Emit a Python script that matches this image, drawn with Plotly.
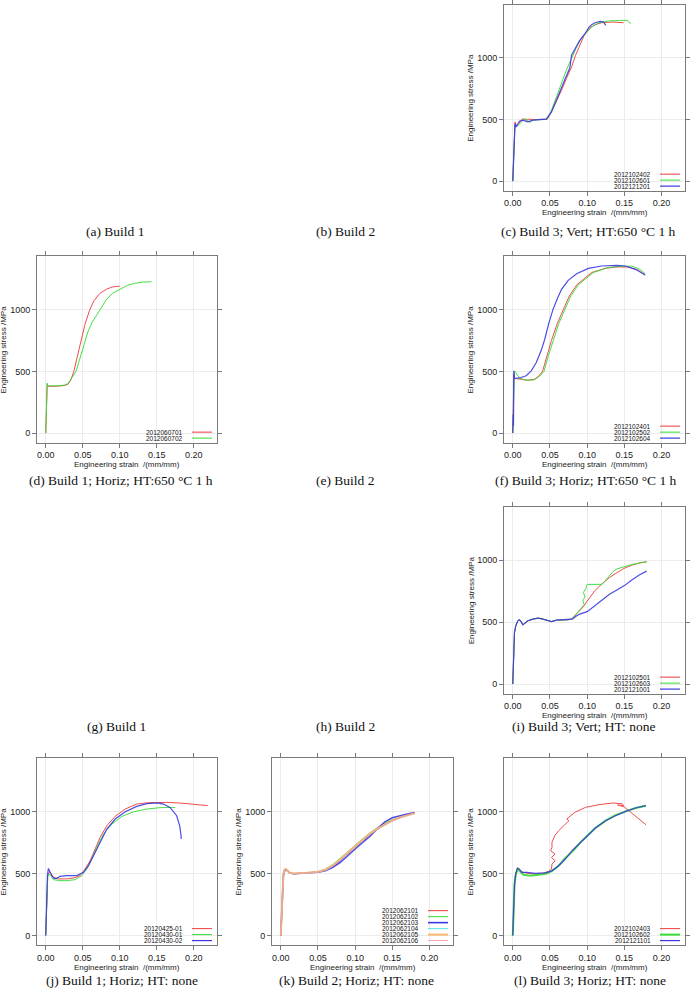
import plotly.graph_objects as go

# ---------------- data (strain mm/mm, stress MPa) ----------------
# (c) Build 3; Vert; HT:650 C 1 h
c_2012102402_x = [0, 0.002, 0.003, 0.005, 0.009, 0.0135, 0.018, 0.022, 0.029, 0.043, 0.0465, 0.052, 0.0587, 0.0655, 0.072, 0.079, 0.0844, 0.090, 0.096, 0.1025, 0.1106, 0.1196, 0.133, 0.149]
c_2012102402_y = [0, 300, 481, 450, 481, 508, 495, 503, 500, 503, 503, 562, 643, 738, 832, 927, 1022, 1108, 1184, 1238, 1270, 1286, 1292, 1286]
c_2012102601_x = [0, 0.002, 0.003, 0.006, 0.01, 0.014, 0.018, 0.0226, 0.027, 0.035, 0.046, 0.052, 0.0587, 0.0655, 0.072, 0.079, 0.0858, 0.0926, 0.0993, 0.106, 0.115, 0.1287, 0.1445, 0.1535, 0.159]
c_2012102601_y = [0, 320, 454, 445, 470, 495, 508, 475, 495, 500, 503, 575, 684, 792, 900, 995, 1089, 1162, 1211, 1251, 1284, 1300, 1305, 1305, 1278]
c_2012121201_x = [0, 0.002, 0.003, 0.0045, 0.009, 0.0135, 0.02, 0.027, 0.045, 0.052, 0.0587, 0.0655, 0.072, 0.0767, 0.079, 0.0835, 0.090, 0.097, 0.1025, 0.106, 0.1106, 0.1174, 0.122, 0.125]
c_2012121201_y = [0, 350, 467, 440, 486, 495, 481, 495, 503, 562, 657, 751, 846, 920, 1022, 1075, 1143, 1197, 1251, 1270, 1286, 1297, 1292, 1265]

# (d) Build 1; Horiz; HT:650 C 1 h
d_2012060701_x = [0, 0.001, 0.002, 0.003, 0.005, 0.015, 0.025, 0.03, 0.034, 0.038, 0.043, 0.048, 0.053, 0.059, 0.065, 0.073, 0.082, 0.09, 0.1]
d_2012060701_y = [0, 200, 395, 380, 378, 380, 385, 395, 430, 500, 620, 760, 880, 990, 1070, 1130, 1165, 1183, 1190]
d_2012060702_x = [0, 0.001, 0.002, 0.003, 0.005, 0.015, 0.025, 0.03, 0.035, 0.041, 0.046, 0.049, 0.052, 0.057, 0.063, 0.073, 0.082, 0.09, 0.1, 0.11, 0.12, 0.13, 0.143]
d_2012060702_y = [0, 180, 405, 380, 382, 383, 388, 400, 450, 500, 600, 660, 720, 820, 900, 1000, 1080, 1130, 1165, 1195, 1212, 1222, 1226]

# (f) Build 3; Horiz; HT:650 C 1 h
f_2012102401_x = [0, 0.0014, 0.0023, 0.0113, 0.0203, 0.029, 0.035, 0.04, 0.046, 0.052, 0.06, 0.068, 0.076, 0.086, 0.106, 0.125, 0.14, 0.156, 0.169, 0.178]
f_2012102401_y = [0, 477, 442, 436, 428, 436, 462, 500, 630, 750, 890, 1000, 1110, 1200, 1300, 1335, 1345, 1345, 1318, 1280]
f_2012102502_x = [0, 0.0023, 0.004, 0.009, 0.018, 0.029, 0.036, 0.042, 0.048, 0.054, 0.062, 0.070, 0.078, 0.088, 0.108, 0.127, 0.142, 0.16, 0.171, 0.178]
f_2012102502_y = [0, 504, 491, 445, 428, 431, 460, 500, 630, 750, 890, 1000, 1110, 1200, 1300, 1338, 1350, 1352, 1326, 1291]
f_2012102604_x = [0, 0.0005, 0.001, 0.0014, 0.0023, 0.0113, 0.018, 0.0248, 0.0316, 0.038, 0.043, 0.048, 0.054, 0.06, 0.0655, 0.0745, 0.0858, 0.1016, 0.1196, 0.14, 0.151, 0.165, 0.178]
f_2012102604_y = [0, 150, 60, 504, 442, 450, 464, 504, 571, 666, 760, 880, 1000, 1090, 1164, 1237, 1291, 1334, 1353, 1358, 1353, 1326, 1280]

# (i) Build 3; Vert; HT: none
i_2012102501_x = [0, 0.0014, 0.0023, 0.004, 0.0068, 0.009, 0.0113, 0.0135, 0.0158, 0.0203, 0.027, 0.034, 0.0406, 0.047, 0.052, 0.0587, 0.0655, 0.0745, 0.08, 0.085, 0.09, 0.095, 0.1, 0.105, 0.11, 0.12, 0.13, 0.14, 0.15, 0.16, 0.17, 0.18]
i_2012102501_y = [0, 280, 416, 470, 511, 519, 503, 478, 492, 511, 524, 533, 524, 511, 505, 516, 519, 519, 530, 560, 590, 625, 670, 715, 752, 810, 860, 900, 935, 960, 978, 988]
i_2012102603_x = [0, 0.0014, 0.0023, 0.004, 0.0068, 0.009, 0.0113, 0.0135, 0.0158, 0.0203, 0.027, 0.034, 0.0406, 0.047, 0.052, 0.0587, 0.0655, 0.0745, 0.08, 0.085, 0.09, 0.093, 0.096, 0.094, 0.097, 0.095, 0.098, 0.1, 0.12, 0.125, 0.13, 0.135, 0.14, 0.15, 0.16, 0.17, 0.18]
i_2012102603_y = [0, 280, 416, 470, 511, 519, 503, 478, 492, 511, 524, 533, 524, 511, 505, 516, 519, 519, 530, 565, 595, 615, 640, 680, 700, 740, 770, 805, 805, 840, 880, 910, 930, 950, 965, 977, 988]
i_2012121001_x = [0, 0.0014, 0.0023, 0.004, 0.0068, 0.009, 0.0113, 0.0135, 0.0158, 0.0203, 0.027, 0.034, 0.0406, 0.047, 0.052, 0.0587, 0.0655, 0.0745, 0.08, 0.085, 0.09, 0.1, 0.11, 0.12, 0.13, 0.14, 0.15, 0.16, 0.17, 0.18]
i_2012121001_y = [0, 280, 416, 470, 511, 519, 503, 478, 492, 511, 524, 533, 524, 511, 505, 516, 519, 519, 525, 548, 565, 585, 630, 680, 725, 760, 795, 840, 880, 912]

# (j) Build 1; Horiz; HT: none
j_20120425_01_x = [0, 0.0027, 0.005, 0.0068, 0.0104, 0.017, 0.0284, 0.0397, 0.0465, 0.0533, 0.06, 0.0668, 0.0736, 0.0826, 0.0939, 0.1075, 0.123, 0.139, 0.15, 0.164, 0.182, 0.2, 0.219]
j_20120425_01_y = [0, 483, 515, 504, 469, 456, 456, 466, 483, 536, 603, 697, 791, 885, 960, 1019, 1059, 1070, 1072, 1072, 1067, 1059, 1046]
j_20120430_01_x = [0, 0.0027, 0.0045, 0.0068, 0.0104, 0.0194, 0.0284, 0.0397, 0.0488, 0.0555, 0.0623, 0.069, 0.078, 0.0894, 0.103, 0.119, 0.137, 0.1546, 0.175]
j_20120430_01_y = [0, 469, 496, 483, 450, 442, 442, 450, 483, 536, 617, 710, 818, 898, 960, 997, 1019, 1030, 1032]
j_20120430_02_x = [0, 0.0023, 0.0036, 0.005, 0.0059, 0.0081, 0.0113, 0.0149, 0.0194, 0.0284, 0.042, 0.051, 0.0578, 0.0646, 0.0736, 0.0826, 0.0939, 0.1075, 0.123, 0.1368, 0.146, 0.1526, 0.159, 0.168, 0.177, 0.181, 0.183, 0.183]
j_20120430_02_y = [0, 483, 541, 515, 509, 483, 460, 461, 477, 483, 483, 509, 563, 643, 750, 858, 938, 997, 1040, 1062, 1067, 1067, 1059, 1032, 965, 885, 804, 778]

# (k) Build 2; Horiz; HT: none
k_x = [0, 0.002, 0.0035, 0.005, 0.007, 0.009, 0.012, 0.017, 0.025, 0.035, 0.05, 0.06, 0.07, 0.08, 0.09, 0.1, 0.11, 0.12, 0.13, 0.14, 0.15, 0.16, 0.17, 0.18]
k_2012062101_y = [0, 380, 490, 528, 535, 522, 505, 497, 499, 504, 512, 528, 560, 605, 660, 715, 765, 815, 858, 895, 925, 950, 970, 985]
k_2012062102_y = [0, 385, 495, 530, 532, 518, 503, 498, 500, 505, 515, 535, 572, 620, 675, 728, 780, 828, 870, 905, 932, 955, 972, 987]
k_2012062103_y = [0, 370, 480, 520, 530, 520, 505, 498, 500, 503, 510, 522, 550, 590, 640, 697, 750, 800, 862, 915, 948, 965, 978, 990]
k_2012062104_y = [0, 378, 488, 525, 533, 520, 505, 497, 498, 503, 511, 527, 562, 608, 662, 716, 768, 816, 856, 893, 923, 948, 968, 984]
k_2012062105_y = [0, 382, 492, 532, 537, 523, 506, 499, 500, 505, 513, 530, 565, 612, 668, 722, 774, 822, 862, 898, 928, 952, 970, 985]
k_2012062106_y = [0, 379, 489, 527, 534, 521, 504, 497, 499, 504, 512, 529, 561, 607, 661, 714, 766, 814, 857, 894, 924, 949, 969, 985]

# (l) Build 3; Horiz; HT: none
l_2012102403_x = [0, 0.003, 0.0054, 0.0077, 0.011, 0.0144, 0.021, 0.030, 0.039, 0.048, 0.052, 0.0527, 0.057, 0.052, 0.0569, 0.0509, 0.0527, 0.0527, 0.0563, 0.0617, 0.0685, 0.073, 0.0755, 0.0725, 0.0833, 0.0977, 0.1158, 0.134, 0.147, 0.149, 0.141, 0.15, 0.161, 0.179]
l_2012102403_y = [0, 468, 535, 543, 521, 508, 500, 495, 500, 516, 535, 575, 602, 629, 656, 683, 710, 750, 804, 844, 884, 911, 925, 938, 992, 1032, 1054, 1067, 1062, 1046, 1052, 1035, 978, 892]
l_2012102602_x = [0, 0.0023, 0.004, 0.0063, 0.0144, 0.0234, 0.0347, 0.046, 0.0527, 0.0617, 0.0707, 0.082, 0.091, 0.100, 0.111, 0.1248, 0.138, 0.1518, 0.165, 0.179]
l_2012102602_y = [0, 410, 490, 535, 489, 481, 489, 500, 521, 562, 624, 688, 750, 804, 866, 925, 970, 1000, 1027, 1046]
l_2012121101_x = [0, 0.0023, 0.004, 0.0063, 0.0086, 0.012, 0.019, 0.030, 0.0437, 0.0527, 0.0617, 0.0707, 0.0797, 0.091, 0.100, 0.111, 0.1248, 0.138, 0.1518, 0.165, 0.179]
l_2012121101_y = [0, 414, 495, 543, 535, 508, 508, 500, 505, 521, 562, 616, 683, 750, 796, 866, 925, 965, 1000, 1027, 1046]

# ---------------- style / layout helpers ----------------
W, H = 690, 993
RED, GREEN, BLUE = "#F03A3A", "#33DD33", "#3A3AE0"
CYAN, ORANGE, PINK = "#55E5E5", "#F8B870", "#F4A0A8"

COLS = [(37, 217), (272, 453), (504, 685)]
ROWS = [(3, 189), (255, 441.5), (506, 693), (757.5, 945)]

def px(x):
    return x / W

def py(y):
    return 1 - y / H

panels = [
    (0, 2, [("2012102402", c_2012102402_x, c_2012102402_y, RED, 1),
            ("2012102601", c_2012102601_x, c_2012102601_y, GREEN, 1),
            ("2012121201", c_2012121201_x, c_2012121201_y, BLUE, 1.2)]),
    (1, 0, [("2012060701", d_2012060701_x, d_2012060701_y, RED, 1),
            ("2012060702", d_2012060702_x, d_2012060702_y, GREEN, 1)]),
    (1, 2, [("2012102401", f_2012102401_x, f_2012102401_y, RED, 1),
            ("2012102502", f_2012102502_x, f_2012102502_y, GREEN, 1),
            ("2012102604", f_2012102604_x, f_2012102604_y, BLUE, 1.2)]),
    (2, 2, [("2012102501", i_2012102501_x, i_2012102501_y, RED, 1),
            ("2012102603", i_2012102603_x, i_2012102603_y, GREEN, 1),
            ("2012121001", i_2012121001_x, i_2012121001_y, BLUE, 1.2)]),
    (3, 0, [("20120425-01", j_20120425_01_x, j_20120425_01_y, RED, 1),
            ("20120430-01", j_20120430_01_x, j_20120430_01_y, GREEN, 1),
            ("20120430-02", j_20120430_02_x, j_20120430_02_y, BLUE, 1.2)]),
    (3, 1, [("2012062101", k_x, k_2012062101_y, RED, 1),
            ("2012062102", k_x, k_2012062102_y, GREEN, 1),
            ("2012062103", k_x, k_2012062103_y, BLUE, 1.6),
            ("2012062104", k_x, k_2012062104_y, CYAN, 1),
            ("2012062105", k_x, k_2012062105_y, ORANGE, 2),
            ("2012062106", k_x, k_2012062106_y, PINK, 1)]),
    (3, 2, [("2012102403", l_2012102403_x, l_2012102403_y, RED, 1),
            ("2012102602", l_2012102602_x, l_2012102602_y, GREEN, 2),
            ("2012121101", l_2012121101_x, l_2012121101_y, BLUE, 1.2)]),
]

captions = [
    ("(a) Build 1", 115, 230), ("(b) Build 2", 345, 230), ("(c) Build 3; Vert; HT:650 °C 1 h", 588, 230),
    ("(d) Build 1; Horiz; HT:650 °C 1 h", 121, 479), ("(e) Build 2", 345, 479), ("(f) Build 3; Horiz; HT:650 °C 1 h", 586, 479),
    ("(g) Build 1", 116, 726), ("(h) Build 2", 345, 726), ("(i) Build 3; Vert; HT: none", 583, 726),
    ("(j) Build 1; Horiz; HT: none", 122, 980), ("(k) Build 2; Horiz; HT: none", 356, 980), ("(l) Build 3; Horiz; HT: none", 590, 980),
]

X_TICKS = [0, 0.05, 0.10, 0.15, 0.20]
X_TICKTEXT = ["0.00", "0.05", "0.10", "0.15", "0.20"]
Y_TICKS = [0, 500, 1000]
X_RANGE = [-0.0118, 0.2315]
Y_RANGE = [-77, 1430]

fig = go.Figure()
annotations = []
shapes = []
FRAME = "#7a7a7a"
SANS = "Liberation Sans, Arial, sans-serif"
SERIF = "Liberation Serif, Times New Roman, serif"

def note(text, x, y, size, family=SANS, xanchor="center", angle=0, color="#222"):
    annotations.append(dict(text=text, x=px(x), y=py(y), xref="paper", yref="paper",
                            xanchor=xanchor, yanchor="middle", showarrow=False, textangle=angle,
                            font=dict(family=family, size=size, color=color)))

for idx, (r, c, series) in enumerate(panels):
    n = idx + 1
    xa = "xaxis" if n == 1 else f"xaxis{n}"
    ya = "yaxis" if n == 1 else f"yaxis{n}"
    xr = "x" if n == 1 else f"x{n}"
    yr = "y" if n == 1 else f"y{n}"
    x0, x1 = COLS[c]
    y0, y1 = ROWS[r]
    common = dict(showgrid=True, gridcolor="#ececec", gridwidth=1, zeroline=False,
                  showline=True, linecolor=FRAME, linewidth=1, mirror="allticks",
                  ticks="outside", ticklen=4, tickcolor=FRAME, tickwidth=1,
                  tickfont=dict(family=SANS, size=9, color="#222"), fixedrange=True)
    fig.layout[xa] = dict(domain=[px(x0), px(x1)], anchor=yr, range=X_RANGE,
                          tickvals=X_TICKS, ticktext=X_TICKTEXT, **common)
    fig.layout[ya] = dict(domain=[py(y1), py(y0)], anchor=xr, range=Y_RANGE,
                          tickvals=Y_TICKS, ticktext=["0", "500", "1000"], **common)
    for name, xs, ys, col, w in series:
        fig.add_trace(go.Scatter(x=xs, y=ys, mode="lines", name=name, xaxis=xr, yaxis=yr,
                                 line=dict(color=col, width=w), showlegend=False, opacity=0.9))
    note("Engineering strain  /(mm/mm)", (x0 + x1) / 2, y1 + 22, 8)
    note("Engineering stress /MPa", x0 - 33, (y0 + y1) / 2, 8, angle=-90)
    m = len(series)
    for k, (name, xs, ys, col, w) in enumerate(series):
        yy = y1 - 4.5 - (m - 1 - k) * 6
        note(name, x1 - 32, yy, 6.5, xanchor="right", color="#111")
        shapes.append(dict(type="line", xref="paper", yref="paper",
                           x0=px(x1 - 25), x1=px(x1 - 5), y0=py(yy), y1=py(yy),
                           line=dict(color=col, width=max(1, w))))

for text, cx, cy in captions:
    note(text, cx, cy, 13.5, family=SERIF, color="#111")

fig.update_layout(width=W, height=H, margin=dict(l=0, r=0, t=0, b=0),
                  paper_bgcolor="white", plot_bgcolor="white",
                  annotations=annotations, shapes=shapes, showlegend=False)

fig.write_html("out.html", config={"displayModeBar": False},
               post_script="document.body.style.margin='0';document.body.style.overflow='hidden';")
